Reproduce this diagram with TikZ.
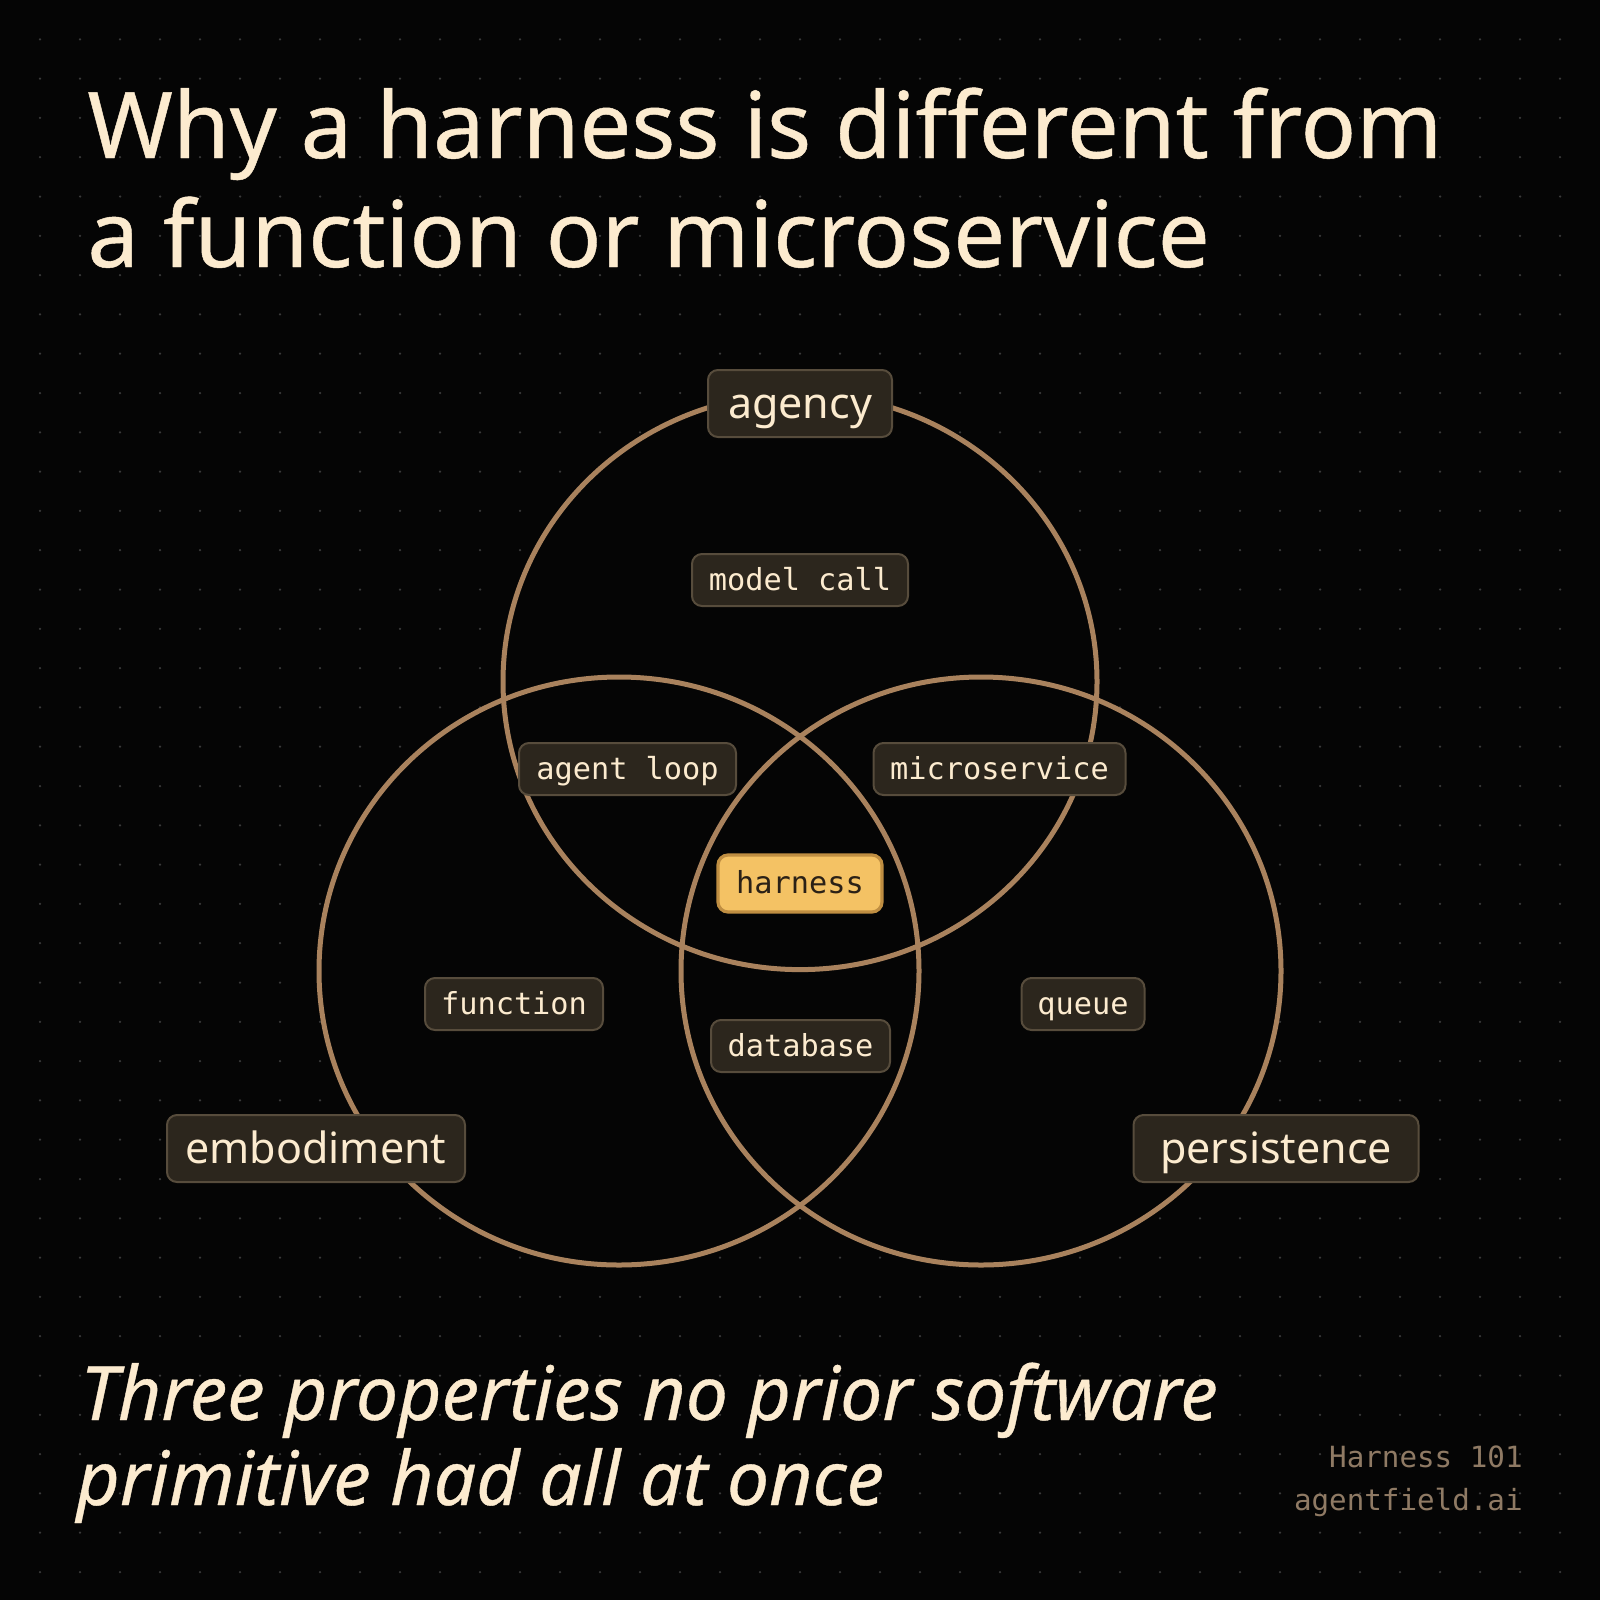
\documentclass[tikz,border=0pt]{standalone}
\usepackage{fontspec}
\setmainfont{Noto Sans}
\newfontfamily\titlef[FakeBold=0.5]{Noto Sans}
\newfontfamily\monof{DejaVu Sans Mono}
\definecolor{bgc}{HTML}{050505}
\definecolor{dotc}{HTML}{3A3A3A}
\definecolor{cream}{HTML}{FCEBCF}
\definecolor{ringc}{HTML}{A9825D}
\definecolor{boxc}{HTML}{2C261D}
\definecolor{boxline}{HTML}{574C3C}
\definecolor{hfill}{HTML}{F4C264}
\definecolor{hline}{HTML}{BF8E42}
\definecolor{htext}{HTML}{2B2116}
\definecolor{footc}{HTML}{8F7A64}
\tikzset{
  ring/.style={draw=ringc, line width=2.5pt},
  tagbox/.style={rounded corners=5pt, fill=boxc, draw=boxline, line width=1pt,
    text=cream, inner sep=0pt, minimum height=26pt, text height=10pt, text depth=0pt,
    font=\monof\fontsize{15.15}{18}\selectfont},
  hbox/.style={tagbox, fill=hfill, draw=hline, line width=1.6pt, text=htext, minimum height=28.5pt},
  propbox/.style={tagbox, minimum height=33.5pt, text height=15pt,
    font=\fontsize{21.5}{26}\selectfont},
  titletext/.style={inner sep=0pt, anchor=base west, text=cream, font=\titlef\fontsize{46}{55}\selectfont},
  subtext/.style={inner sep=0pt, anchor=base west, text=cream, font=\titlef\itshape\fontsize{37.5}{45}\selectfont},
  foottext/.style={inner sep=0pt, anchor=base east, text=footc, font=\monof\fontsize{14.6}{18}\selectfont},
}
\begin{document}
\begin{tikzpicture}[x=0.5pt,y=-0.5pt]
\useasboundingbox (0,0) rectangle (1600,1600);
\fill[bgc] (0,0) rectangle (1600,1600);
\foreach \i in {1,...,39}{\foreach \j in {1,...,40}{\fill[dotc] (\i*40,\j*39.3) circle[radius=1.25];}}
% circles (filled to hide grid dots inside)
\fill[bgc] (800,681.6) ellipse[x radius=297, y radius=288];
\fill[bgc] (619,971) ellipse[x radius=300, y radius=294];
\fill[bgc] (981,971) ellipse[x radius=300, y radius=294];
\draw[ring] (800,681.6) ellipse[x radius=297, y radius=288];
\draw[ring] (619,971) ellipse[x radius=300, y radius=294];
\draw[ring] (981,971) ellipse[x radius=300, y radius=294];
% title
\node[titletext] (title1) at (87,158) {Why a harness is different from};
\node[titletext] (title2) at (87,267) {a function or microservice};
% property labels
\node[propbox, minimum width=92pt] (agency) at (800,403.5) {agency};
\node[propbox, minimum width=149pt] (embodiment) at (316,1148.5) {embodiment};
\node[propbox, minimum width=142.5pt] (persistence) at (1276,1148.5) {persistence};
% region labels
\node[tagbox, minimum width=108pt] (modelcall) at (800,580) {model call};
\node[tagbox, minimum width=108.5pt] (agentloop) at (627.5,769) {agent loop};
\node[tagbox, minimum width=126pt] (microservice) at (999.5,769) {microservice};
\node[hbox, minimum width=82pt] (harness) at (800,883.5) {harness};
\node[tagbox, minimum width=89pt] (function) at (514,1004) {function};
\node[tagbox, minimum width=61.5pt] (queue) at (1083,1004) {queue};
\node[tagbox, minimum width=89.5pt] (database) at (800.5,1046) {database};
% subtitle
\node[subtext] (sub1) at (80,1420) {Three properties no prior software};
\node[subtext] (sub2) at (76,1505) {primitive had all at once};
% footer
\node[foottext] (foot1) at (1523,1467) {Harness 101};
\node[foottext] (foot2) at (1523,1510) {agentfield.ai};
\end{tikzpicture}
\end{document}
